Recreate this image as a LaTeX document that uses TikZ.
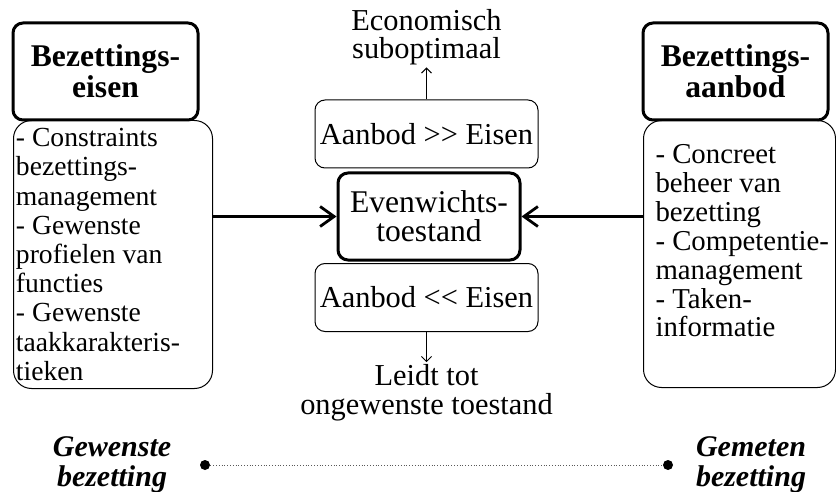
\documentclass[tikz,border=0pt]{standalone}
\usepackage{fontspec}
\setmainfont{Liberation Serif}
\usetikzlibrary{arrows.meta,positioning,calc}

\begin{document}
\begin{tikzpicture}[x=1pt,y=-1pt,every node/.style={font=\fontsize{15.2}{14.2}\selectfont,inner sep=1pt},
    headbox/.style={draw,line width=1.5pt,rounded corners=5pt,minimum width=92.5pt,minimum height=48.5pt,align=center,font=\fontsize{15.8}{13.2}\selectfont\bfseries},
    bodybox/.style={draw,line width=0.5pt,rounded corners=9pt,anchor=north west,align=left,inner sep=0pt},
    statebox/.style={draw,line width=0.5pt,rounded corners=5pt,minimum width=111.5pt,minimum height=34pt},
    scalelabel/.style={align=center,font=\fontsize{15}{15}\selectfont\bfseries\itshape},
    bigarrow/.style={line width=1.5pt,-{Straight Barb[length=7pt,width=10pt,line width=1.4pt]}},
    smallarrow/.style={line width=0.5pt,-{Straight Barb[length=2.5pt,width=5pt]}}]
  \useasboundingbox (0,0) rectangle (418,246);
  % left column
  \node[headbox] (eisen) at (52.75,35.75) {Bezettings-\\eisen};
  \node[bodybox,minimum width=99.5pt,minimum height=134pt] (eisenlijst) at (6.5,60)
     {\parbox[c][134pt][c]{99pt}{\fontsize{13.8}{14.6}\selectfont\raggedright\hspace*{1pt}- Constraints\\ \hspace*{1pt}bezettings-\\ \hspace*{1pt}management\\ \hspace*{1pt}- Gewenste\\ \hspace*{1pt}profielen van\\ \hspace*{1pt}functies\\ \hspace*{1pt}- Gewenste\\ \hspace*{1pt}taakkarakteris-\\ \hspace*{1pt}tieken}};
  % right column
  \node[bodybox,minimum width=96pt,minimum height=133.5pt] (aanbodlijst) at (321.5,60)
     {\parbox[c][133.5pt][t]{96pt}{\fontsize{14.4}{14.45}\selectfont\raggedright\vspace*{12pt}\hspace*{6pt}- Concreet\\ \hspace*{6pt}beheer van\\ \hspace*{6pt}bezetting\\ \hspace*{6pt}\mbox{- Competentie-}\\ \hspace*{6pt}management\\ \hspace*{6pt}- Taken-\\ \hspace*{6pt}informatie}};
  \node[headbox] (aanbod) at (367.75,35.75) {Bezettings-\\aanbod};
  % middle
  \node[statebox] (boven) at (213.25,67) {Aanbod >{}> Eisen};
  \node[draw,line width=1.5pt,rounded corners=5pt,minimum width=91pt,minimum height=43.5pt,align=center,font=\fontsize{15.8}{14.6}\selectfont] (evenwicht) at (214.5,108.25) {Evenwichts-\\toestand};
  \node[statebox] (onder) at (213.25,148.75) {Aanbod <{}< Eisen};
  \node[align=center] (econ) at (213.25,18.5) {Economisch\\suboptimaal};
  \node[align=center,font=\fontsize{15.2}{14.6}\selectfont] (leidt) at (213.25,196.5) {Leidt tot\\ongewenste toestand};
  \draw[smallarrow] (boven.north) -- (econ.south);
  \draw[smallarrow] (onder.south) -- (leidt.north);
  \draw[bigarrow] (eisenlijst.east |- evenwicht.west) -- (evenwicht.west);
  \draw[bigarrow] (aanbodlijst.west |- evenwicht.east) -- (evenwicht.east);
  % bottom scale
  \node[circle,fill,inner sep=0pt,minimum size=5pt] (gewenst) at (102.5,232.5) {};
  \node[circle,fill,inner sep=0pt,minimum size=5pt] (gemeten) at (334,232.5) {};
  \draw[line width=0.4pt,densely dotted,gray!70!black] (gewenst) -- (gemeten);
  \node[scalelabel] (gewenstlabel) at (56,232.5) {Gewenste\\bezetting};
  \node[scalelabel] (gemetenlabel) at (375.5,232.5) {Gemeten\\bezetting};
\end{tikzpicture}
\end{document}
